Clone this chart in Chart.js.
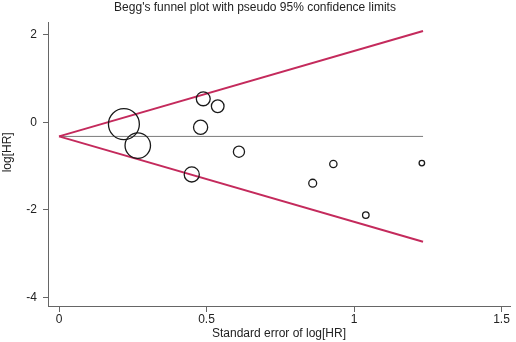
<!DOCTYPE html>
<html><head><meta charset="utf-8">
<script src="https://cdn.jsdelivr.net/npm/chart.js@4/dist/chart.umd.min.js"></script>
<style>html,body{margin:0;padding:0;background:#fff}#wrap{width:516px;height:342px}</style></head>
<body><div id="wrap"><canvas id="c" width="516" height="342"></canvas></div>
<script>
// Study data
const studySE = [0.220, 0.267, 0.450, 0.480, 0.489, 0.538, 0.610, 0.860, 0.930, 1.040, 1.230];
const studyLogHR = [-0.04, -0.53, -1.19, -0.11, 0.54, 0.37, -0.67, -1.39, -0.95, -2.12, -0.93];
// Pseudo 95% confidence limits and pooled estimate (end points)
const funnelSE = [0, 1.234];
const upperLimit = [-0.32, 2.09];
const lowerLimit = [-0.32, -2.73];
const pooledLine = [-0.32, -0.32];
const xTicks = [0, 0.5, 1, 1.5];
const yTicks = [-4, -2, 0, 2];
const xRange = [-0.0373, 1.5288];
const yRange = [-4.199, 2.297];

const pts = (xs, ys) => xs.map((x, i) => ({x: x, y: ys[i]}));
const font = {family: "'Liberation Sans', Arial, sans-serif", size: 12};
const lineCol = '#c42a5c';

new Chart(document.getElementById('c'), {
  type: 'scatter',
  data: {
    datasets: [
      {data: pts(funnelSE, pooledLine), showLine: true, borderColor: '#7a7a7a', borderWidth: 1, pointRadius: 0, order: 3},
      {data: pts(funnelSE, upperLimit), showLine: true, borderColor: lineCol, borderWidth: 2, pointRadius: 0, order: 2},
      {data: pts(funnelSE, lowerLimit), showLine: true, borderColor: lineCol, borderWidth: 2, pointRadius: 0, order: 2},
      {data: pts(studySE, studyLogHR), showLine: false, borderColor: '#1a1a1a', backgroundColor: 'rgba(0,0,0,0)', borderWidth: 1.3,
       pointRadius: ctx => 3.4 / studySE[ctx.dataIndex], pointHoverRadius: ctx => 3.4 / studySE[ctx.dataIndex], order: 1}
    ]
  },
  options: {
    responsive: false, animation: false, devicePixelRatio: 1,
    layout: {autoPadding: false, padding: {right: 6, left: 0, top: 0, bottom: 0}},
    plugins: {
      legend: {display: false}, tooltip: {enabled: false},
      title: {display: true, text: "Begg's funnel plot with pseudo 95% confidence limits", color: '#222', font: {family: font.family, size: 12, weight: 'normal'}, padding: {top: 0, bottom: 7.6}}
    },
    scales: {
      x: {
        type: 'linear', min: xRange[0], max: xRange[1], bounds: 'data',
        afterBuildTicks: s => { s.ticks = xTicks.map(v => ({value: v})); },
        afterFit: s => { s.height = 36; s.paddingLeft = 0; s.paddingRight = 0; },
        grid: {display: true, drawOnChartArea: false, drawTicks: true, tickLength: 6, color: '#666'},
        border: {display: true, color: '#666', width: 1},
        ticks: {font: font, color: '#222', padding: 0, maxRotation: 0, callback: v => String(v)},
        title: {display: true, text: 'Standard error of log[HR]', font: font, color: '#222', padding: {top: 0, bottom: 1}}
      },
      y: {
        type: 'linear', min: yRange[0], max: yRange[1], bounds: 'data',
        afterBuildTicks: s => { s.ticks = yTicks.map(v => ({value: v})); },
        afterFit: s => { s.width = 48; s.paddingTop = 0; s.paddingBottom = 0; },
        grid: {display: true, drawOnChartArea: false, drawTicks: true, tickLength: 5, color: '#666'},
        border: {display: true, color: '#666', width: 1},
        ticks: {font: font, color: '#222', padding: 6, callback: v => String(v)},
        title: {display: true, text: '       log[HR]', font: font, color: '#222', padding: {top: 0, bottom: 0}}
      }
    }
  }
});
</script></body></html>
